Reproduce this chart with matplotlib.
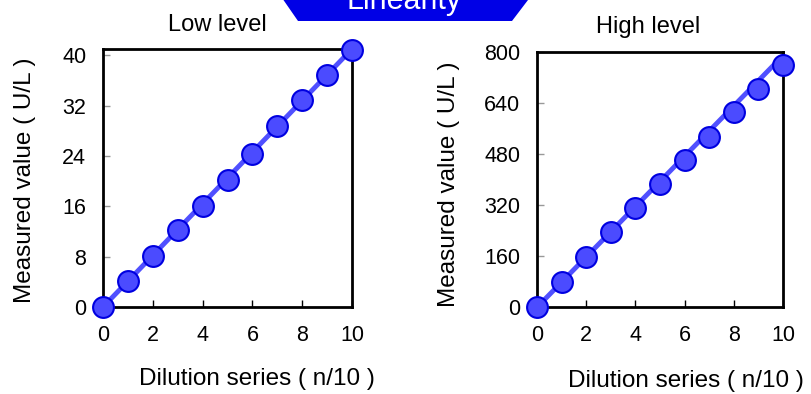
import numpy as np
import matplotlib.pyplot as plt
from matplotlib.patches import Polygon

plt.rcParams['font.family'] = ['Liberation Sans', 'Noto Sans CJK JP']

# dilution steps (n/10)
dilution = [0, 1, 2, 3, 4, 5, 6, 7, 8, 9, 10]
low_values = [0, 4.1, 8.1, 12.2, 16.1, 20.2, 24.3, 28.7, 32.9, 36.8, 40.9]
high_values = [0, 80, 159, 235, 311, 387, 462, 535, 612, 685, 760]
# expected (theoretical) lines, end points
line_x = [0, 10]
low_expected = [0, 41]
high_expected = [0, 790]

low_ticks = [0, 8, 16, 24, 32, 40]
high_ticks = [0, 160, 320, 480, 640, 800]
x_ticks = [0, 2, 4, 6, 8, 10]

fig = plt.figure(figsize=(8.12, 3.94), dpi=100)

ax1 = fig.add_axes([103/812, 1-307/394, 249/812, 258/394])
ax2 = fig.add_axes([537/812, 1-307.3/394, 246/812, 255.6/394])

panels = [
    (ax1, low_values, low_expected, low_ticks, 41, "Low level", 217/812, 25),
    (ax2, high_values, high_expected, high_ticks, 802, "High level", 648/812, 27),
]

for ax, vals, expected, yt, ymax, title, tx, ty in panels:
    ax.plot(line_x, expected, color='#5050ff', lw=3.5, zorder=2, clip_on=False)
    ax.plot(dilution, vals, 'o', ms=15, mfc='#4b4bff', mec='#0000e0', mew=1.5,
            zorder=3, clip_on=False)
    ax.set_xlim(0, 10)
    ax.set_ylim(0, ymax)
    ax.set_xticks(x_ticks)
    ax.set_yticks(yt)
    ax.tick_params(axis='x', direction='in', length=5, width=1, color='black',
                   labelsize=15.5, pad=13)
    ax.tick_params(axis='y', direction='in', length=5, width=1, color='#999999',
                   labelsize=15.5, pad=12)
    for s in ax.spines.values():
        s.set_linewidth(2)
    fig.text(tx, 1 - ty/394, title, ha='center', va='center', fontsize=17)

ylab = "Measured value ( U/L )"
xlab = "Dilution series ( n/10 )"
fig.text(25/812, 1 - 180/394, ylab, rotation=90, ha='center', va='center', fontsize=17.5)
fig.text(449/812, 1 - 184/394, ylab, rotation=90, ha='center', va='center', fontsize=17.5)
fig.text(257/812, 1 - 379/394, xlab, ha='center', va='center', fontsize=17.5)
fig.text(686/812, 1 - 381/394, xlab, ha='center', va='center', fontsize=17.5)

# banner at the top
banner = Polygon([(278/812, 1.02), (534/812, 1.02), (512/812, 1 - 21/394), (298/812, 1 - 21/394)],
                 closed=True, transform=fig.transFigure, facecolor='#0000e6', edgecolor='none')
fig.patches.append(banner)
fig.text(404/812, 1 - 9/394, "Linearity", ha='center', va='baseline', fontsize=22, color='white')

fig.savefig('out.png', dpi=100)
